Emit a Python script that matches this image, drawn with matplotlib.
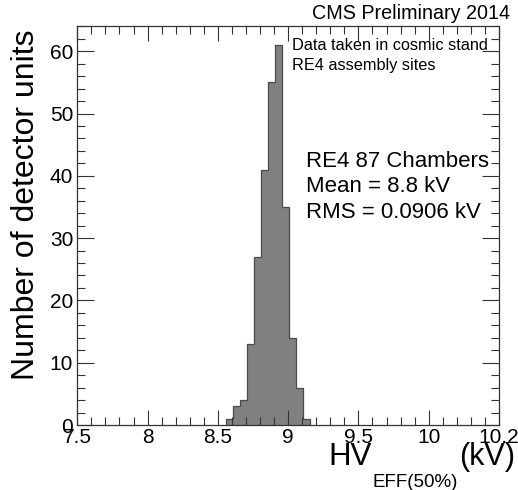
import numpy as np
import matplotlib.pyplot as plt
from matplotlib.ticker import MultipleLocator

plt.rcParams['font.family'] = ['Liberation Sans', 'DejaVu Sans']

# Histogram data (HV at 50% efficiency, kV)
bin_edges = [8.555, 8.605, 8.655, 8.705, 8.755, 8.805, 8.855,
             8.905, 8.955, 9.005, 9.055, 9.105, 9.155]
counts = [1, 3, 4, 13, 27, 41, 55, 61, 35, 14, 6, 1]

xtick_vals = [7.5, 8.0, 8.5, 9.0, 9.5, 10.0, 10.5]
xtick_labels = ['7.5', '8', '8.5', '9', '9.5', '10', '10.2']

W, H = 518, 490
fig = plt.figure(figsize=(W / 100, H / 100), dpi=100)
ax = fig.add_axes([77.3 / W, 65 / H, (499 - 77.3) / W, (425 - 26) / H])

ax.stairs(counts, bin_edges, fill=True, facecolor='#808080',
          edgecolor='#4a4a4a', linewidth=0.9)

ax.set_xlim(7.5, 10.5)
ax.set_ylim(0, 64.05)

ax.set_xticks(xtick_vals)
ax.set_xticklabels(xtick_labels)
ax.xaxis.set_minor_locator(MultipleLocator(0.1))
ax.yaxis.set_major_locator(MultipleLocator(10))
ax.yaxis.set_minor_locator(MultipleLocator(2))

ax.tick_params(which='both', direction='in', top=True, right=True,
               labelsize=15, width=0.8, color='#333333')
ax.tick_params(axis='x', which='major', length=11, pad=2)
ax.tick_params(axis='y', which='major', length=12, pad=3)
ax.tick_params(which='minor', length=5.5)
for s in ax.spines.values():
    s.set_linewidth(0.9)
    s.set_color('#333333')

# axis titles
fig.text(26 / W, 1 - 30 / H, 'Number of detector units', rotation=90,
         ha='center', va='top', fontsize=23)
fig.text(328 / W, 1 - 465 / H, 'HV', fontsize=22.5, ha='left', va='baseline')
fig.text(373 / W, 1 - 487 / H, 'EFF(50%)', fontsize=13.5, ha='left', va='baseline')
fig.text(459 / W, 1 - 465 / H, '(kV)', fontsize=22, ha='left', va='baseline')

# annotations
fig.text(510 / W, 1 - 19 / H, 'CMS Preliminary 2014', fontsize=14.2,
         ha='right', va='baseline')
fig.text(292 / W, 1 - 50 / H, 'Data taken in cosmic stand', fontsize=11.7,
         ha='left', va='baseline')
fig.text(292 / W, 1 - 70 / H, 'RE4 assembly sites', fontsize=11.7,
         ha='left', va='baseline')
fig.text(306 / W, 1 - 167 / H, 'RE4 87 Chambers', fontsize=16,
         ha='left', va='baseline')
fig.text(306 / W, 1 - 192 / H, 'Mean = 8.8 kV', fontsize=16,
         ha='left', va='baseline')
fig.text(306 / W, 1 - 218 / H, 'RMS = 0.0906 kV', fontsize=16,
         ha='left', va='baseline')

fig.savefig('out.png', dpi=100)
